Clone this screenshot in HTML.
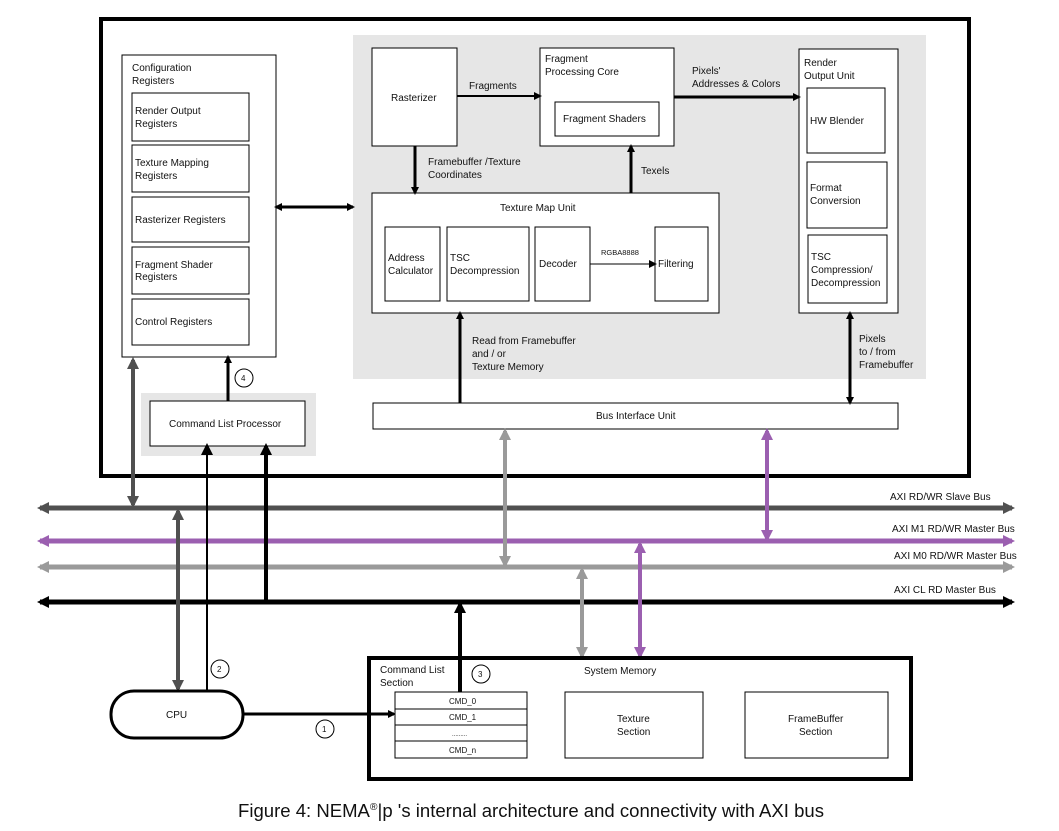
<!DOCTYPE html>
<html><head><meta charset="utf-8"><style>
html,body{margin:0;padding:0;background:#fff;}
svg{display:block;font-family:"Liberation Sans",sans-serif;}
text{font-size:10px;fill:#111;}
</style></head><body>
<svg width="1059" height="831" viewBox="0 0 1059 831" xmlns="http://www.w3.org/2000/svg">
<defs>
<marker id="ak" markerWidth="8" markerHeight="8" refX="6" refY="4" orient="auto-start-reverse" markerUnits="userSpaceOnUse"><path d="M0,0 L8,4 L0,8 Z" fill="#000"/></marker>
<marker id="akb" markerWidth="12" markerHeight="12" refX="9" refY="6" orient="auto-start-reverse" markerUnits="userSpaceOnUse"><path d="M0,0 L12,6 L0,12 Z" fill="#000"/></marker>
<marker id="ad" markerWidth="12" markerHeight="12" refX="9" refY="6" orient="auto-start-reverse" markerUnits="userSpaceOnUse"><path d="M0,0 L12,6 L0,12 Z" fill="#505050"/></marker>
<marker id="ap" markerWidth="12" markerHeight="12" refX="9" refY="6" orient="auto-start-reverse" markerUnits="userSpaceOnUse"><path d="M0,0 L12,6 L0,12 Z" fill="#9b5fb0"/></marker>
<marker id="ag" markerWidth="12" markerHeight="12" refX="9" refY="6" orient="auto-start-reverse" markerUnits="userSpaceOnUse"><path d="M0,0 L12,6 L0,12 Z" fill="#9a9a9a"/></marker>
</defs>

<rect x="101" y="19" width="868" height="457" fill="#fff" stroke="#000" stroke-width="4"/>
<rect x="353" y="35" width="573" height="344" fill="#e6e6e6"/>
<rect x="141" y="393" width="175" height="63" fill="#e6e6e6"/>

<rect x="122" y="55" width="154" height="302" fill="#fff" stroke="#000"/>
<text x="132" y="71">Configuration</text><text x="132" y="84">Registers</text>
<rect x="132" y="93" width="117" height="48" fill="#fff" stroke="#000"/>
<text x="135" y="114">Render Output</text><text x="135" y="127">Registers</text>
<rect x="132" y="145" width="117" height="47" fill="#fff" stroke="#000"/>
<text x="135" y="166">Texture Mapping</text><text x="135" y="179">Registers</text>
<rect x="132" y="197" width="117" height="45" fill="#fff" stroke="#000"/>
<text x="135" y="223">Rasterizer Registers</text>
<rect x="132" y="247" width="117" height="47" fill="#fff" stroke="#000"/>
<text x="135" y="268">Fragment Shader</text><text x="135" y="280">Registers</text>
<rect x="132" y="299" width="117" height="46" fill="#fff" stroke="#000"/>
<text x="135" y="325">Control Registers</text>

<rect x="372" y="48" width="85" height="98" fill="#fff" stroke="#000"/>
<text x="391" y="101">Rasterizer</text>
<rect x="540" y="48" width="134" height="98" fill="#fff" stroke="#000"/>
<text x="545" y="62">Fragment</text><text x="545" y="75">Processing Core</text>
<rect x="555" y="102" width="104" height="34" fill="#fff" stroke="#000"/>
<text x="563" y="122">Fragment Shaders</text>
<rect x="799" y="49" width="99" height="264" fill="#fff" stroke="#000"/>
<text x="804" y="66">Render</text><text x="804" y="79">Output Unit</text>
<rect x="807" y="88" width="78" height="65" fill="#fff" stroke="#000"/>
<text x="810" y="124">HW Blender</text>
<rect x="807" y="162" width="80" height="66" fill="#fff" stroke="#000"/>
<text x="810" y="191">Format</text><text x="810" y="204">Conversion</text>
<rect x="808" y="235" width="79" height="68" fill="#fff" stroke="#000"/>
<text x="811" y="260">TSC</text><text x="811" y="273">Compression/</text><text x="811" y="286">Decompression</text>
<rect x="372" y="193" width="347" height="120" fill="#fff" stroke="#000"/>
<text x="500" y="211">Texture Map Unit</text>
<rect x="385" y="227" width="55" height="74" fill="#fff" stroke="#000"/>
<text x="388" y="261">Address</text><text x="388" y="274">Calculator</text>
<rect x="447" y="227" width="82" height="74" fill="#fff" stroke="#000"/>
<text x="450" y="261">TSC</text><text x="450" y="274">Decompression</text>
<rect x="535" y="227" width="55" height="74" fill="#fff" stroke="#000"/>
<text x="539" y="267">Decoder</text>
<rect x="655" y="227" width="53" height="74" fill="#fff" stroke="#000"/>
<text x="658" y="267">Filtering</text>
<line x1="590" y1="264" x2="655" y2="264" stroke="#000" stroke-width="1" marker-end="url(#ak)"/>
<text x="601" y="255" style="font-size:7.5px">RGBA8888</text>

<line x1="457" y1="96" x2="540" y2="96" stroke="#000" stroke-width="2" marker-end="url(#ak)"/>
<text x="469" y="89">Fragments</text>
<line x1="674" y1="97" x2="799" y2="97" stroke="#000" stroke-width="3" marker-end="url(#ak)"/>
<text x="692" y="74">Pixels'</text><text x="692" y="87">Addresses &amp; Colors</text>
<line x1="415" y1="146" x2="415" y2="193" stroke="#000" stroke-width="3" marker-end="url(#ak)"/>
<text x="428" y="165">Framebuffer /Texture</text><text x="428" y="178">Coordinates</text>
<line x1="631" y1="193" x2="631" y2="146" stroke="#000" stroke-width="3" marker-end="url(#ak)"/>
<text x="641" y="174">Texels</text>
<line x1="276" y1="207" x2="353" y2="207" stroke="#000" stroke-width="3" marker-start="url(#ak)" marker-end="url(#ak)"/>

<rect x="373" y="403" width="525" height="26" fill="#fff" stroke="#000"/>
<text x="596" y="419">Bus Interface Unit</text>
<line x1="460" y1="403" x2="460" y2="313" stroke="#000" stroke-width="3" marker-end="url(#ak)"/>
<text x="472" y="344">Read from Framebuffer</text><text x="472" y="357">and / or</text><text x="472" y="370">Texture Memory</text>
<line x1="850" y1="313" x2="850" y2="403" stroke="#000" stroke-width="3" marker-start="url(#ak)" marker-end="url(#ak)"/>
<text x="859" y="342">Pixels</text><text x="859" y="355">to / from</text><text x="859" y="368">Framebuffer</text>

<rect x="150" y="401" width="155" height="45" fill="#fff" stroke="#000"/>
<text x="169" y="427">Command List Processor</text>
<line x1="228" y1="401" x2="228" y2="357" stroke="#000" stroke-width="3" marker-end="url(#ak)"/>
<circle cx="244" cy="378" r="9" fill="#fff" stroke="#000"/><text x="241" y="381" style="font-size:8px">4</text>

<line x1="40" y1="508" x2="1012" y2="508" stroke="#505050" stroke-width="5" marker-start="url(#ad)" marker-end="url(#ad)"/>
<line x1="40" y1="541" x2="1012" y2="541" stroke="#9b5fb0" stroke-width="5" marker-start="url(#ap)" marker-end="url(#ap)"/>
<line x1="40" y1="567" x2="1012" y2="567" stroke="#9a9a9a" stroke-width="5" marker-start="url(#ag)" marker-end="url(#ag)"/>
<line x1="40" y1="602" x2="1012" y2="602" stroke="#000" stroke-width="5" marker-start="url(#akb)" marker-end="url(#akb)"/>
<text x="890" y="500">AXI RD/WR Slave Bus</text>
<text x="892" y="532">AXI M1 RD/WR Master Bus</text>
<text x="894" y="559">AXI M0 RD/WR Master Bus</text>
<text x="894" y="593">AXI CL RD Master Bus</text>

<line x1="133" y1="360" x2="133" y2="505" stroke="#505050" stroke-width="4" marker-start="url(#ad)" marker-end="url(#ad)"/>
<line x1="178" y1="511" x2="178" y2="689" stroke="#505050" stroke-width="4" marker-start="url(#ad)" marker-end="url(#ad)"/>
<line x1="207" y1="690" x2="207" y2="446" stroke="#000" stroke-width="2" marker-end="url(#akb)"/>
<line x1="266" y1="602" x2="266" y2="446" stroke="#000" stroke-width="4" marker-end="url(#akb)"/>
<line x1="505" y1="431" x2="505" y2="565" stroke="#9a9a9a" stroke-width="4" marker-start="url(#ag)" marker-end="url(#ag)"/>
<line x1="767" y1="431" x2="767" y2="539" stroke="#9b5fb0" stroke-width="4" marker-start="url(#ap)" marker-end="url(#ap)"/>
<line x1="582" y1="570" x2="582" y2="656" stroke="#9a9a9a" stroke-width="4" marker-start="url(#ag)" marker-end="url(#ag)"/>
<line x1="640" y1="544" x2="640" y2="656" stroke="#9b5fb0" stroke-width="4" marker-start="url(#ap)" marker-end="url(#ap)"/>
<line x1="460" y1="692" x2="460" y2="604" stroke="#000" stroke-width="4" marker-end="url(#akb)"/>

<rect x="111" y="691" width="132" height="47" rx="23" fill="#fff" stroke="#000" stroke-width="3"/>
<text x="166" y="718">CPU</text>
<circle cx="220" cy="669" r="9" fill="#fff" stroke="#000"/><text x="217" y="672" style="font-size:8px">2</text>
<line x1="243" y1="714" x2="394" y2="714" stroke="#000" stroke-width="3" marker-end="url(#ak)"/>
<circle cx="325" cy="729" r="9" fill="#fff" stroke="#000"/><text x="322" y="732" style="font-size:8px">1</text>

<rect x="369" y="658" width="542" height="121" fill="none" stroke="#000" stroke-width="4"/>
<line x1="460" y1="660" x2="460" y2="692" stroke="#000" stroke-width="4"/>
<text x="380" y="673">Command List</text><text x="380" y="686">Section</text>
<circle cx="481" cy="674" r="9" fill="#fff" stroke="#000"/><text x="478" y="677" style="font-size:8px">3</text>
<text x="584" y="674">System Memory</text>
<rect x="395" y="692" width="132" height="66" fill="#fff" stroke="#000"/>
<line x1="395" y1="709" x2="527" y2="709" stroke="#000"/>
<line x1="395" y1="725" x2="527" y2="725" stroke="#000"/>
<line x1="395" y1="741" x2="527" y2="741" stroke="#000"/>
<text x="449" y="704" style="font-size:8px">CMD_0</text>
<text x="449" y="720" style="font-size:8px">CMD_1</text>
<text x="452" y="736" style="font-size:6px">.........</text>
<text x="449" y="753" style="font-size:8px">CMD_n</text>
<rect x="565" y="692" width="138" height="66" fill="#fff" stroke="#000"/>
<text x="617" y="722">Texture</text><text x="617" y="735">Section</text>
<rect x="745" y="692" width="143" height="66" fill="#fff" stroke="#000"/>
<text x="788" y="722">FrameBuffer</text><text x="799" y="735">Section</text>

<text x="238" y="817" style="font-size:18px" textLength="586" lengthAdjust="spacingAndGlyphs">Figure 4: NEMA<tspan style="font-size:10px" dy="-7">®</tspan><tspan dy="7">|p 's internal architecture and connectivity with AXI bus</tspan></text>
</svg>
</body></html>
